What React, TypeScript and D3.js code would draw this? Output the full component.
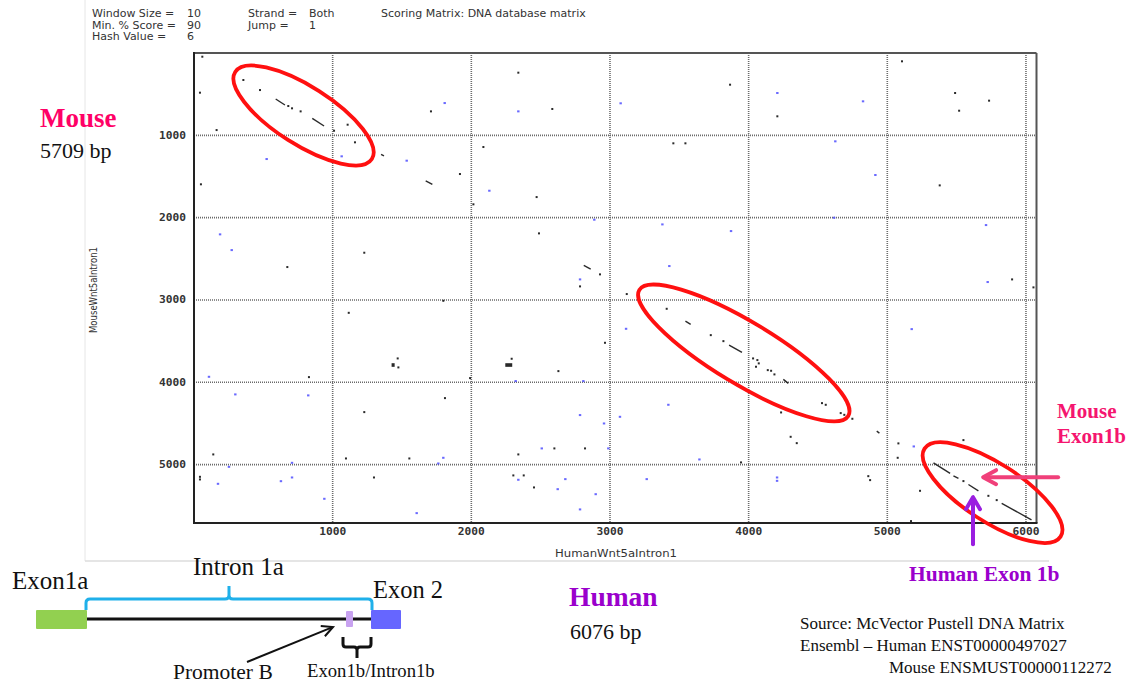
import React from 'react';
import * as d3 from 'd3';

// ---------- data ----------
const humanLength = 6076;
const mouseLength = 5709;
const xTicks = [1000, 2000, 3000, 4000, 5000, 6000];
const yTicks = [1000, 2000, 3000, 4000, 5000];

const headerLabels1 = ['Window Size =', 'Min. % Score =', 'Hash Value ='];
const headerValues1 = ['10', '90', '6'];
const headerLabels2 = ['Strand =', 'Jump ='];
const headerValues2 = ['Both', '1'];
const headerNote = 'Scoring Matrix: DNA database matrix';

// [human, mouse]
const blackDots: [number, number][] = [
  [60, 45], [43, 482], [356, 328], [476, 450], [680, 644], [707, 672], [769, 709], [163, 936],
  [1010, 944], [1108, 871], [1161, 1085], [1709, 709], [2087, 1142], [1918, 1470], [50, 1595],
  [2015, 1838], [2339, 239], [2471, 1750], [2488, 2191], [673, 2600], [1228, 2426],
  [2584, 680], [3866, 385], [4207, 769], [5106, 101], [5489, 486], [5734, 579], [5518, 701],
  [3457, 1097], [3544, 1097], [5378, 1608], [2928, 2689], [5900, 2750],
  [1798, 3010], [1116, 3156], [1469, 3710], [1474, 3819], [2291, 3714], [1991, 3949], [829, 3937],
  [1810, 4192], [1228, 4362], [139, 4876], [43, 5148], [43, 5180], [1096, 4925], [1298, 5156],
  [1553, 4925], [2339, 4876], [2303, 5131], [2378, 5131], [2452, 5277],
  [2784, 2835], [3121, 2928], [3409, 3107], [3727, 3427], [3818, 3500], [4032, 3710], [4063, 3730],
  [4073, 3770], [4053, 3811], [4138, 3852], [4162, 3860], [4186, 3904], [4529, 4253], [4556, 4273],
  [4234, 4366], [4664, 4374], [4690, 4395], [4748, 4443], [4303, 4662], [4347, 4739], [5080, 4742],
  [5075, 4917], [5549, 4702], [4863, 5140], [4876, 5188], [5236, 5318], [5549, 5200], [5729, 5379],
  [5789, 5431], [2964, 3520], [2628, 3864], [2599, 4803], [2820, 4803], [3945, 4973], [5171, 5686],
  [6054, 2847],
];

const blueDots: [number, number][] = [
  [1065, 1255], [524, 1288], [1534, 1308], [1808, 608], [2130, 1673], [2339, 709], [188, 2203], [272, 2394],
  [3077, 611], [4207, 486], [4825, 587], [4625, 1073], [4914, 1482], [2887, 2025], [3378, 2082],
  [3873, 2163], [4616, 2001], [5712, 2090], [3428, 2588], [2784, 2750],
  [108, 3933], [298, 4147], [824, 4159], [2320, 3985], [173, 5233], [252, 5027], [707, 4978], [627, 5201],
  [707, 5156], [940, 5415], [1798, 4917], [1762, 4986], [1606, 5589], [2339, 5184],
  [5176, 3354], [5724, 2782], [3116, 3350], [2808, 3985], [3421, 4273], [2784, 4398], [3072, 4419],
  [2957, 4500], [2508, 4803], [2988, 4803], [3645, 4937], [2678, 5176], [2623, 5298], [3265, 5176],
  [2897, 5359], [4205, 5156], [4205, 5197], [2784, 5544], [5191, 4779],
];

// [human1, mouse1, human2, mouse2]
const matchSegments: [number, number, number, number][] = [
  [589, 559, 656, 632], [853, 794, 938, 887], [1349, 1232, 1370, 1250], [1671, 1552, 1719, 1595],
  [2811, 2580, 2861, 2624], [3544, 3256, 3582, 3296], [3859, 3548, 3952, 3637], [4250, 3965, 4286, 4013],
  [4924, 4593, 4943, 4617], [5333, 4978, 5453, 5107], [5477, 5136, 5513, 5168], [5585, 5241, 5657, 5318],
  [5825, 5471, 6040, 5670],
];

const matchBlocks: [number, number, number, number][] = [
  [1425, 3768, 1447, 3812], [2245, 3768, 2295, 3812],
];

// annotation ellipses: centre in [human, mouse]
const ellipseCentres: [number, number][] = [[790, 759], [3965, 3643], [5759, 5340]];
const ellipseRadii: [number, number, number][] = [[81, 29, 32.5], [122, 31, 31.1], [81, 29, 32.9]];

// arrows in data coords [h1, m1, h2(tip), m2(tip)]
const mouseArrow: [number, number, number, number] = [6232, 5152, 5691, 5152];
const humanArrow: [number, number, number, number] = [5618, 5966, 5618, 5395];

// gene schematic (human bp along intron 1a)
const exon1bSpan: [number, number] = [5541, 5691];
const exon1bBrace: [number, number] = [5477, 6076];

const sourceLines = [
  'Source: McVector Pustell DNA Matrix',
  'Ensembl \u2013 Human ENST00000497027',
  'Mouse ENSMUST00000112272',
];

// ---------- helpers ----------
function arrowHead(x1: number, y1: number, x2: number, y2: number, len: number, half: number) {
  const dx = x2 - x1, dy = y2 - y1;
  const L = Math.hypot(dx, dy);
  const ux = dx / L, uy = dy / L;
  const bx = x2 - ux * len, by = y2 - uy * len;
  const nx = -uy, ny = ux;
  return `M${bx + nx * half},${by + ny * half} L${x2},${y2} L${bx - nx * half},${by - ny * half}`;
}

const SERIF = "'Liberation Serif', 'Times New Roman', serif";
const SANS = "'DejaVu Sans', sans-serif";
const MONO = "'DejaVu Sans Mono', monospace";

export default function App() {
  const x = d3.scaleLinear().domain([0, humanLength]).range([194, 1036.5]);
  const y = d3.scaleLinear().domain([0, mouseLength]).range([53, 523]);
  const g = d3.scaleLinear().domain([0, humanLength]).range([87, 371]);

  const left = x(0), right = x(humanLength), top = y(0), bottom = y(mouseLength);

  const pink = '#f5156f';
  const purple = '#9a00cc';

  const ma = mouseArrow.map((v, i) => (i % 2 === 0 ? x(v) : y(v)));
  const ha = humanArrow.map((v, i) => (i % 2 === 0 ? x(v) : y(v)));

  const bx1 = g(exon1bBrace[0]), bx2 = g(exon1bBrace[1]), bmid = (bx1 + bx2) / 2;
  const i0 = g(0), i1 = g(humanLength), imid = (i0 + i1) / 2;

  return (
    <svg width={1143} height={683} style={{ position: 'absolute', left: 0, top: 0, background: '#fff' }}>
      {/* screenshot frame */}
      <line x1={85} y1={0} x2={85} y2={561} stroke="#e6e6e6" strokeWidth={1} />
      <line x1={85} y1={561} x2={1049} y2={561} stroke="#dcdcdc" strokeWidth={1.5} />

      {/* header */}
      <g fontFamily={SANS} fontSize={11} fill="#333">
        {headerLabels1.map((t, i) => (
          <text key={'l1' + i} x={92} y={17 + i * 11.5}>{t}</text>
        ))}
        {headerValues1.map((t, i) => (
          <text key={'v1' + i} x={187} y={17 + i * 11.5}>{t}</text>
        ))}
        {headerLabels2.map((t, i) => (
          <text key={'l2' + i} x={248} y={17 + i * 11.5}>{t}</text>
        ))}
        {headerValues2.map((t, i) => (
          <text key={'v2' + i} x={309} y={17 + i * 11.5}>{t}</text>
        ))}
        <text x={381} y={17}>{headerNote}</text>
      </g>

      {/* grid */}
      <g stroke="#6a6a6a" strokeWidth={1.6} strokeDasharray="1 1">
        {xTicks.map((t) => (
          <line key={'gx' + t} x1={x(t)} x2={x(t)} y1={top} y2={bottom} />
        ))}
        {yTicks.map((t) => (
          <line key={'gy' + t} x1={left} x2={right} y1={y(t)} y2={y(t)} />
        ))}
      </g>

      {/* frame */}
      <line x1={left} y1={top} x2={right} y2={top} stroke="#555" strokeWidth={2} />
      <line x1={right} y1={top} x2={right} y2={bottom} stroke="#555" strokeWidth={2} />
      <line x1={left} y1={top - 1} x2={left} y2={bottom} stroke="#222" strokeWidth={2} />
      <line x1={left - 1} y1={bottom} x2={right + 1} y2={bottom} stroke="#222" strokeWidth={2} />

      {/* tick labels */}
      <g fontFamily={MONO} fontSize={10} fill="#333" fontWeight="bold">
        {xTicks.map((t) => (
          <text key={'tx' + t} x={x(t)} y={bottom + 12} textAnchor="middle" textLength={27} lengthAdjust="spacingAndGlyphs">{t}</text>
        ))}
        {yTicks.map((t) => (
          <text key={'ty' + t} x={left - 8} y={y(t) + 3.5} textAnchor="end" textLength={27} lengthAdjust="spacingAndGlyphs">{t}</text>
        ))}
      </g>

      {/* axis titles */}
      <text x={616} y={557} textAnchor="middle" fontFamily={SANS} fontSize={10} fill="#333" textLength={122} lengthAdjust="spacingAndGlyphs">HumanWnt5aIntron1</text>
      <text transform="translate(97,290) rotate(-90)" textAnchor="middle" fontFamily={SANS} fontSize={10} fill="#333" textLength={86} lengthAdjust="spacingAndGlyphs">MouseWnt5aIntron1</text>

      {/* matches */}
      <g fill="#5050ff" opacity={0.85}>
        {blueDots.map(([h, m], i) => (
          <rect key={'b' + i} x={x(h) - 1.2} y={y(m) - 1} width={2.4} height={2} />
        ))}
      </g>
      <g fill="#2a2a2a">
        {blackDots.map(([h, m], i) => (
          <rect key={'k' + i} x={x(h) - 1} y={y(m) - 1} width={2} height={2} />
        ))}
        {matchBlocks.map(([h1, m1, h2, m2], i) => (
          <rect key={'blk' + i} x={x(h1)} y={y(m1)} width={x(h2) - x(h1)} height={y(m2) - y(m1)} />
        ))}
      </g>
      <g stroke="#2a2a2a" strokeWidth={1.4}>
        {matchSegments.map(([h1, m1, h2, m2], i) => (
          <line key={'s' + i} x1={x(h1)} y1={y(m1)} x2={x(h2)} y2={y(m2)} />
        ))}
      </g>

      {/* ellipses */}
      <g fill="none" stroke="#ff1010" strokeWidth={3.8}>
        {ellipseCentres.map(([h, m], i) => (
          <ellipse key={'e' + i} cx={0} cy={0} rx={ellipseRadii[i][0]} ry={ellipseRadii[i][1]}
            transform={`translate(${x(h)},${y(m)}) rotate(${ellipseRadii[i][2]})`} />
        ))}
      </g>

      {/* arrows */}
      <g fill="none" strokeWidth={4} strokeLinecap="round" strokeLinejoin="round">
        <line x1={ma[0]} y1={ma[1]} x2={ma[2] + 2} y2={ma[3]} stroke="#f0407a" />
        <path d={arrowHead(ma[0], ma[1], ma[2], ma[3], 13, 7)} stroke="#f0407a" />
        <line x1={ha[0]} y1={ha[1]} x2={ha[2]} y2={ha[3] + 2} stroke="#9a1ee0" />
        <path d={arrowHead(ha[0], ha[1], ha[2], ha[3], 12, 7)} stroke="#9a1ee0" />
      </g>

      {/* big labels */}
      <g fontFamily={SERIF}>
        <text x={40} y={127} fontSize={27} fontWeight="bold" fill="#ff0066">Mouse</text>
        <text x={40} y={158} fontSize={22} fill="#111">5709 bp</text>
        <text x={1057} y={418} fontSize={21} fontWeight="bold" fill={pink}>Mouse</text>
        <text x={1057} y={443} fontSize={21} fontWeight="bold" fill={pink}>Exon1b</text>
        <text x={909} y={581} fontSize={21.5} fontWeight="bold" fill={purple}>Human Exon 1b</text>
        <text x={569} y={606} fontSize={27.5} fontWeight="bold" fill={purple}>Human</text>
        <text x={570} y={639} fontSize={22} fill="#111">6076 bp</text>
        <text x={800} y={629} fontSize={17} fill="#111">{sourceLines[0]}</text>
        <text x={800} y={651} fontSize={17} fill="#111">{sourceLines[1]}</text>
        <text x={889} y={673} fontSize={17} fill="#111">{sourceLines[2]}</text>
      </g>

      {/* gene schematic */}
      <g>
        <rect x={i0 - 51} y={610} width={51} height={19} fill="#92d050" rx={1} />
        <rect x={i1} y={610} width={30} height={19} fill="#6666ff" rx={1} />
        <line x1={i0} y1={619} x2={i1} y2={619} stroke="#111" strokeWidth={3} />
        <rect x={g(exon1bSpan[0])} y={611} width={g(exon1bSpan[1]) - g(exon1bSpan[0])} height={16} fill="#c8a2f0" rx={1} />
        <path
          d={`M${i0 - 1},610 L${i0 - 1},603 Q${i0 - 1},599 ${i0 + 3},599 L${imid - 4},599 Q${imid},599 ${imid},595 L${imid},586 M${imid},595 Q${imid},599 ${imid + 4},599 L${i1 - 3},599 Q${i1 + 1},599 ${i1 + 1},603 L${i1 + 1},610`}
          fill="none" stroke="#1fb0ea" strokeWidth={3}
        />
        <path
          d={`M${bx1},637 L${bx1},644 Q${bx1},647 ${bx1 + 3},647 L${bmid - 3},647 Q${bmid},647 ${bmid},650 L${bmid},658 M${bmid},650 Q${bmid},647 ${bmid + 3},647 L${bx2 - 3},647 Q${bx2},647 ${bx2},644 L${bx2},637`}
          fill="none" stroke="#111" strokeWidth={3}
        />
        <line x1={247} y1={662} x2={332} y2={627.4} stroke="#111" strokeWidth={2} />
        <path d={arrowHead(247, 662, 333, 627, 11, 5.5)} fill="none" stroke="#111" strokeWidth={2} />
        <g fontFamily={SERIF} fill="#111">
          <text x={12} y={589} fontSize={25}>Exon1a</text>
          <text x={193} y={575} fontSize={25}>Intron 1a</text>
          <text x={373} y={598} fontSize={24.5}>Exon 2</text>
          <text x={173} y={679} fontSize={21.5}>Promoter B</text>
          <text x={307} y={677} fontSize={18.7}>Exon1b/Intron1b</text>
        </g>
      </g>
    </svg>
  );
}
